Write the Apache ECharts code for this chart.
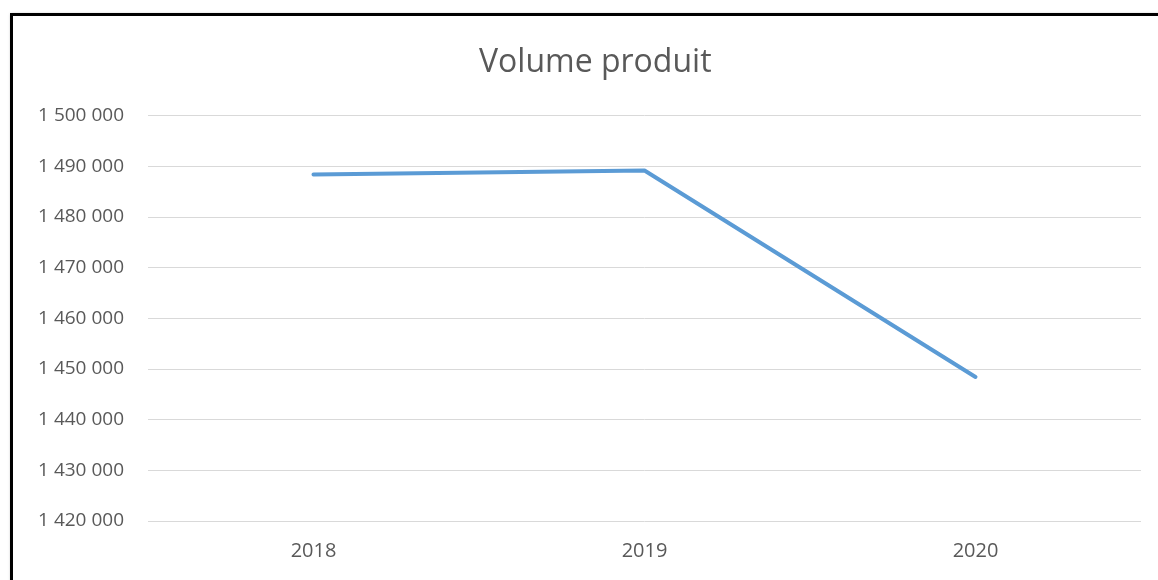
<!DOCTYPE html>
<html>
<head>
<meta charset="utf-8">
<script src="https://cdn.jsdelivr.net/npm/echarts@6/dist/echarts.min.js"></script>
<style>
  html, body { margin: 0; padding: 0; background: #fff; }
  #frame { position: absolute; left: 10px; top: 13px; width: 1160px; height: 580px;
    border: 3px solid #000; box-shadow: 1px 1px 3px rgba(0,0,0,0.35); box-sizing: border-box; }
  #chart { position: absolute; left: 0; top: 0; width: 1158px; height: 580px; }
</style>
</head>
<body>
<div id="frame"></div>
<div id="chart"></div>
<script>
const years = ['2018', '2019', '2020']
const volume = [1488370, 1489150, 1448420]
const yMin = 1420000
const yMax = 1500000
const yStep = 10000

function fmt(v) {
  return String(v).replace(/\B(?=(\d{3})+(?!\d))/g, ' ')
}

const chart = echarts.init(document.getElementById('chart'))
chart.setOption({
  animation: false,
  title: {
    text: 'Volume produit',
    left: 474,
    top: 42,
    textStyle: { color: '#595959', fontSize: 32, fontWeight: 'normal', fontFamily: 'Open Sans' }
  },
  grid: { left: 148, right: 17, top: 115.5, bottom: 59, containLabel: false },
  xAxis: {
    type: 'category',
    data: years,
    boundaryGap: true,
    axisLine: { show: false },
    axisTick: { show: false },
    axisLabel: { color: '#595959', fontSize: 20, margin: 20, fontFamily: 'Open Sans' }
  },
  yAxis: {
    type: 'value',
    min: yMin,
    max: yMax,
    interval: yStep,
    axisLine: { show: false },
    axisTick: { show: false },
    splitLine: { lineStyle: { color: '#D9D9D9', width: 1 } },
    axisLabel: { color: '#595959', fontSize: 19, margin: 24, fontFamily: 'Open Sans', formatter: fmt }
  },
  series: [{
    type: 'line',
    data: volume,
    symbol: 'none',
    lineStyle: { color: '#5B9BD5', width: 4, cap: 'round', join: 'round' }
  }]
})
</script>
</body>
</html>
